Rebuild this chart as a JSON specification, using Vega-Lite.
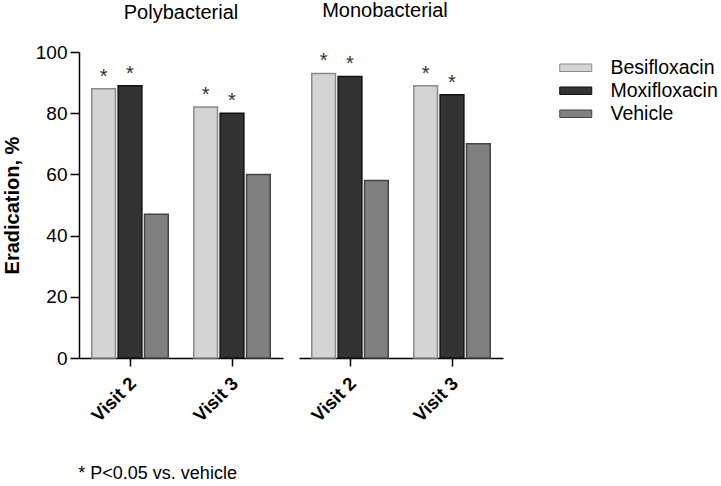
{
  "$schema": "https://vega.github.io/schema/vega-lite/v6.json",
  "background": "white",
  "padding": {"left": 2, "top": 1, "right": 5, "bottom": 5},
  "datasets": {
    "bars": [
      {"panel": "Polybacterial", "visit": "Visit 2", "drug": "Besifloxacin", "value": 88, "sig": "*"},
      {"panel": "Polybacterial", "visit": "Visit 2", "drug": "Moxifloxacin", "value": 89, "sig": "*"},
      {"panel": "Polybacterial", "visit": "Visit 2", "drug": "Vehicle", "value": 47, "sig": ""},
      {"panel": "Polybacterial", "visit": "Visit 3", "drug": "Besifloxacin", "value": 82, "sig": "*"},
      {"panel": "Polybacterial", "visit": "Visit 3", "drug": "Moxifloxacin", "value": 80, "sig": "*"},
      {"panel": "Polybacterial", "visit": "Visit 3", "drug": "Vehicle", "value": 60, "sig": ""},
      {"panel": "Monobacterial", "visit": "Visit 2", "drug": "Besifloxacin", "value": 93, "sig": "*"},
      {"panel": "Monobacterial", "visit": "Visit 2", "drug": "Moxifloxacin", "value": 92, "sig": "*"},
      {"panel": "Monobacterial", "visit": "Visit 2", "drug": "Vehicle", "value": 58, "sig": ""},
      {"panel": "Monobacterial", "visit": "Visit 3", "drug": "Besifloxacin", "value": 89, "sig": "*"},
      {"panel": "Monobacterial", "visit": "Visit 3", "drug": "Moxifloxacin", "value": 86, "sig": "*"},
      {"panel": "Monobacterial", "visit": "Visit 3", "drug": "Vehicle", "value": 70, "sig": ""}
    ]
  },
  "title": {
    "text": "* P<0.05 vs. vehicle",
    "orient": "bottom",
    "anchor": "start",
    "font": "Liberation Sans",
    "fontSize": 18,
    "fontWeight": "normal",
    "color": "black",
    "dx": 76,
    "offset": 40
  },
  "config": {
    "font": "Liberation Sans",
    "view": {"stroke": null},
    "axis": {
      "domainColor": "black",
      "domainWidth": 1.5,
      "tickColor": "black",
      "tickWidth": 1.5,
      "grid": false,
      "labelColor": "black",
      "titleColor": "black",
      "labelFont": "Liberation Sans",
      "titleFont": "Liberation Sans"
    },
    "legend": {
      "labelFont": "Liberation Sans",
      "labelFontSize": 19.5,
      "labelColor": "black"
    },
    "title": {"font": "Liberation Sans", "fontWeight": "normal", "color": "black"}
  },
  "spacing": 16,
  "resolve": {"scale": {"y": "shared", "fill": "shared", "stroke": "shared"}},
  "hconcat": [
    {
      "width": 204,
      "height": 306,
      "title": {"text": "Polybacterial", "fontSize": 20, "anchor": "middle", "offset": 20},
      "data": {"name": "bars"},
      "transform": [{"filter": "datum.panel === 'Polybacterial'"}],
      "layer": [
        {
          "mark": {"type": "bar", "strokeWidth": 1.5},
          "encoding": {
            "x": {
              "field": "visit", "type": "nominal",
              "scale": {"paddingInner": 0.25, "paddingOuter": 0.125},
              "axis": {"title": null, "labelAngle": -45, "labelAlign": "right", "labelBaseline": "middle", "labelFontSize": 18.5, "labelFontWeight": "bold", "tickSize": 8, "labelPadding": 14, "labelOffset": 3}
            },
            "xOffset": {"field": "drug", "type": "nominal", "sort": ["Besifloxacin", "Moxifloxacin", "Vehicle"], "scale": {"paddingInner": 0.1, "paddingOuter": 0}},
            "y": {
              "field": "value", "type": "quantitative",
              "scale": {"domain": [0, 100]},
              "axis": {"title": "Eradication, %", "values": [0, 20, 40, 60, 80, 100], "tickSize": 9, "labelFontSize": 19, "labelPadding": 3, "titleFontSize": 20, "titleFontWeight": "bold", "titlePadding": 13}
            },
            "fill": {
              "field": "drug", "type": "nominal",
              "scale": {"domain": ["Besifloxacin", "Moxifloxacin", "Vehicle"], "range": ["#d4d4d4", "#333333", "#808080"]},
              "legend": {"title": null, "symbolType": "M-2,-0.47L2,-0.47L2,0.47L-2,0.47Z", "symbolSize": 256, "symbolStrokeColor": "#333333", "symbolStrokeWidth": 1, "labelOffset": 25, "rowPadding": 2, "offset": 57, "padding": 6, "symbolOpacity": 1}
            },
            "stroke": {
              "field": "drug", "type": "nominal",
              "scale": {"domain": ["Besifloxacin", "Moxifloxacin", "Vehicle"], "range": ["#8a8a8a", "#111111", "#444444"]},
              "legend": null
            }
          }
        },
        {
          "mark": {"type": "text", "fontSize": 20, "baseline": "alphabetic", "dy": -6, "color": "#333333"},
          "encoding": {
            "x": {"field": "visit", "type": "nominal"},
            "xOffset": {"field": "drug", "type": "nominal", "sort": ["Besifloxacin", "Moxifloxacin", "Vehicle"]},
            "y": {"field": "value", "type": "quantitative"},
            "text": {"field": "sig"}
          }
        }
      ]
    },
    {
      "width": 204,
      "height": 306,
      "title": {"text": "Monobacterial", "fontSize": 20, "anchor": "middle", "offset": 30, "dx": -16},
      "data": {"name": "bars"},
      "transform": [{"filter": "datum.panel === 'Monobacterial'"}],
      "layer": [
        {
          "mark": {"type": "bar", "strokeWidth": 1.5},
          "encoding": {
            "x": {
              "field": "visit", "type": "nominal",
              "scale": {"paddingInner": 0.25, "paddingOuter": 0.125},
              "axis": {"title": null, "labelAngle": -45, "labelAlign": "right", "labelBaseline": "middle", "labelFontSize": 18.5, "labelFontWeight": "bold", "tickSize": 8, "labelPadding": 14, "labelOffset": 3}
            },
            "xOffset": {"field": "drug", "type": "nominal", "sort": ["Besifloxacin", "Moxifloxacin", "Vehicle"], "scale": {"paddingInner": 0.1, "paddingOuter": 0}},
            "y": {"field": "value", "type": "quantitative", "scale": {"domain": [0, 100]}, "axis": null},
            "fill": {"field": "drug", "type": "nominal"},
            "stroke": {"field": "drug", "type": "nominal", "legend": null}
          }
        },
        {
          "mark": {"type": "text", "fontSize": 20, "baseline": "alphabetic", "dy": -6, "color": "#333333"},
          "encoding": {
            "x": {"field": "visit", "type": "nominal"},
            "xOffset": {"field": "drug", "type": "nominal", "sort": ["Besifloxacin", "Moxifloxacin", "Vehicle"]},
            "y": {"field": "value", "type": "quantitative"},
            "text": {"field": "sig"}
          }
        }
      ]
    }
  ]
}
